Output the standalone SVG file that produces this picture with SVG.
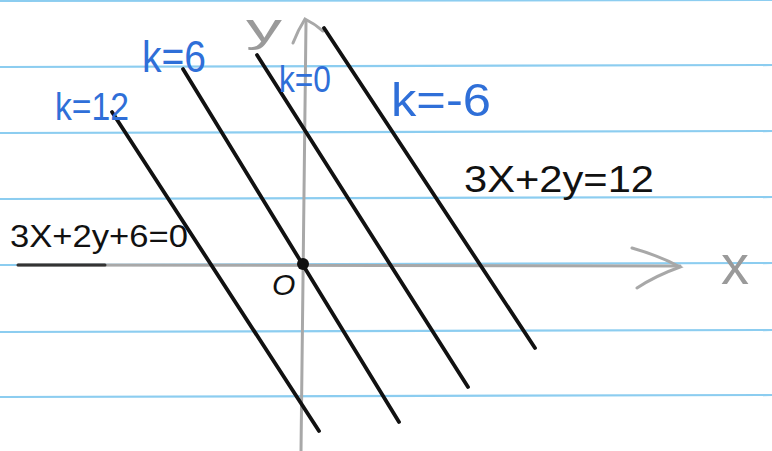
<svg xmlns="http://www.w3.org/2000/svg" width="772" height="451" viewBox="0 0 772 451">
<defs>
<style>
.rule{stroke:#8ccdf0;stroke-width:2.2;fill:none}
.axis{stroke:#a8a8a8;stroke-width:3;fill:none;stroke-linecap:round}
.ln{stroke:#111;stroke-width:3.8;fill:none;stroke-linecap:round}
.blue{fill:#2f6fd8;font-family:"Liberation Sans",Arial,sans-serif}
.ink{fill:#111;font-family:"Liberation Sans",Arial,sans-serif}
.gray{fill:#9a9a9a;font-family:"Liberation Sans",Arial,sans-serif}
</style>
</defs>
<rect width="772" height="451" fill="#fff"/>
<g id="paper">
<line class="rule" x1="0" y1="1" x2="772" y2="0"/>
<line class="rule" x1="0" y1="67" x2="772" y2="65"/>
<line class="rule" x1="0" y1="133" x2="772" y2="131"/>
<line class="rule" x1="0" y1="199" x2="772" y2="197"/>
<line class="rule" x1="0" y1="265" x2="772" y2="263"/>
<line class="rule" x1="0" y1="332" x2="772" y2="330"/>
<line class="rule" x1="0" y1="397" x2="772" y2="395"/>
</g>
<g id="axes">
<line class="axis" x1="18" y1="265" x2="680" y2="266"/>
<line x1="18" y1="265" x2="105" y2="265" stroke="#333" stroke-width="3" stroke-linecap="round"/>
<path class="axis" d="M632,248 Q660,256 680,267 Q655,276 637,288"/>
<line class="axis" x1="306" y1="22" x2="301" y2="451" stroke-width="4"/>
<path class="axis" d="M293,43 Q298,30 305,19 Q315,24 323,31"/>
<circle cx="303" cy="264" r="6" fill="#111"/>
</g>
<g id="connectors">
<line class="ln" x1="112" y1="112" x2="319" y2="431"/>
<line class="ln" x1="183" y1="69" x2="399" y2="422"/>
<line class="ln" x1="257" y1="55" x2="468" y2="387"/>
<line class="ln" x1="324" y1="28" x2="535" y2="348"/>
</g>
<g id="label-k12"><text class="blue" x="55" y="120" font-size="38" textLength="74" lengthAdjust="spacingAndGlyphs">k=12</text></g>
<g id="label-k6"><text class="blue" x="142" y="72" font-size="44" textLength="64" lengthAdjust="spacingAndGlyphs">k=6</text></g>
<g id="label-k0"><text class="blue" x="279" y="92" font-size="36" textLength="52" lengthAdjust="spacingAndGlyphs">k=0</text></g>
<g id="label-km6"><text class="blue" x="391" y="116" font-size="46" textLength="100" lengthAdjust="spacingAndGlyphs">k=-6</text></g>
<g id="label-eq1"><text class="ink" x="10" y="247" font-size="32" textLength="178" lengthAdjust="spacingAndGlyphs">3X+2y+6=0</text></g>
<g id="label-eq2"><text class="ink" x="464" y="192" font-size="36" textLength="190" lengthAdjust="spacingAndGlyphs">3X+2y=12</text></g>
<g id="label-origin"><text class="ink" x="272" y="295" font-size="30" font-style="italic">O</text></g>
<g id="label-y"><text class="gray" x="246" y="42" font-size="40" textLength="36" lengthAdjust="spacingAndGlyphs">y</text></g>
<g id="label-x"><text class="gray" x="721" y="284" font-size="56">x</text></g>
</svg>
